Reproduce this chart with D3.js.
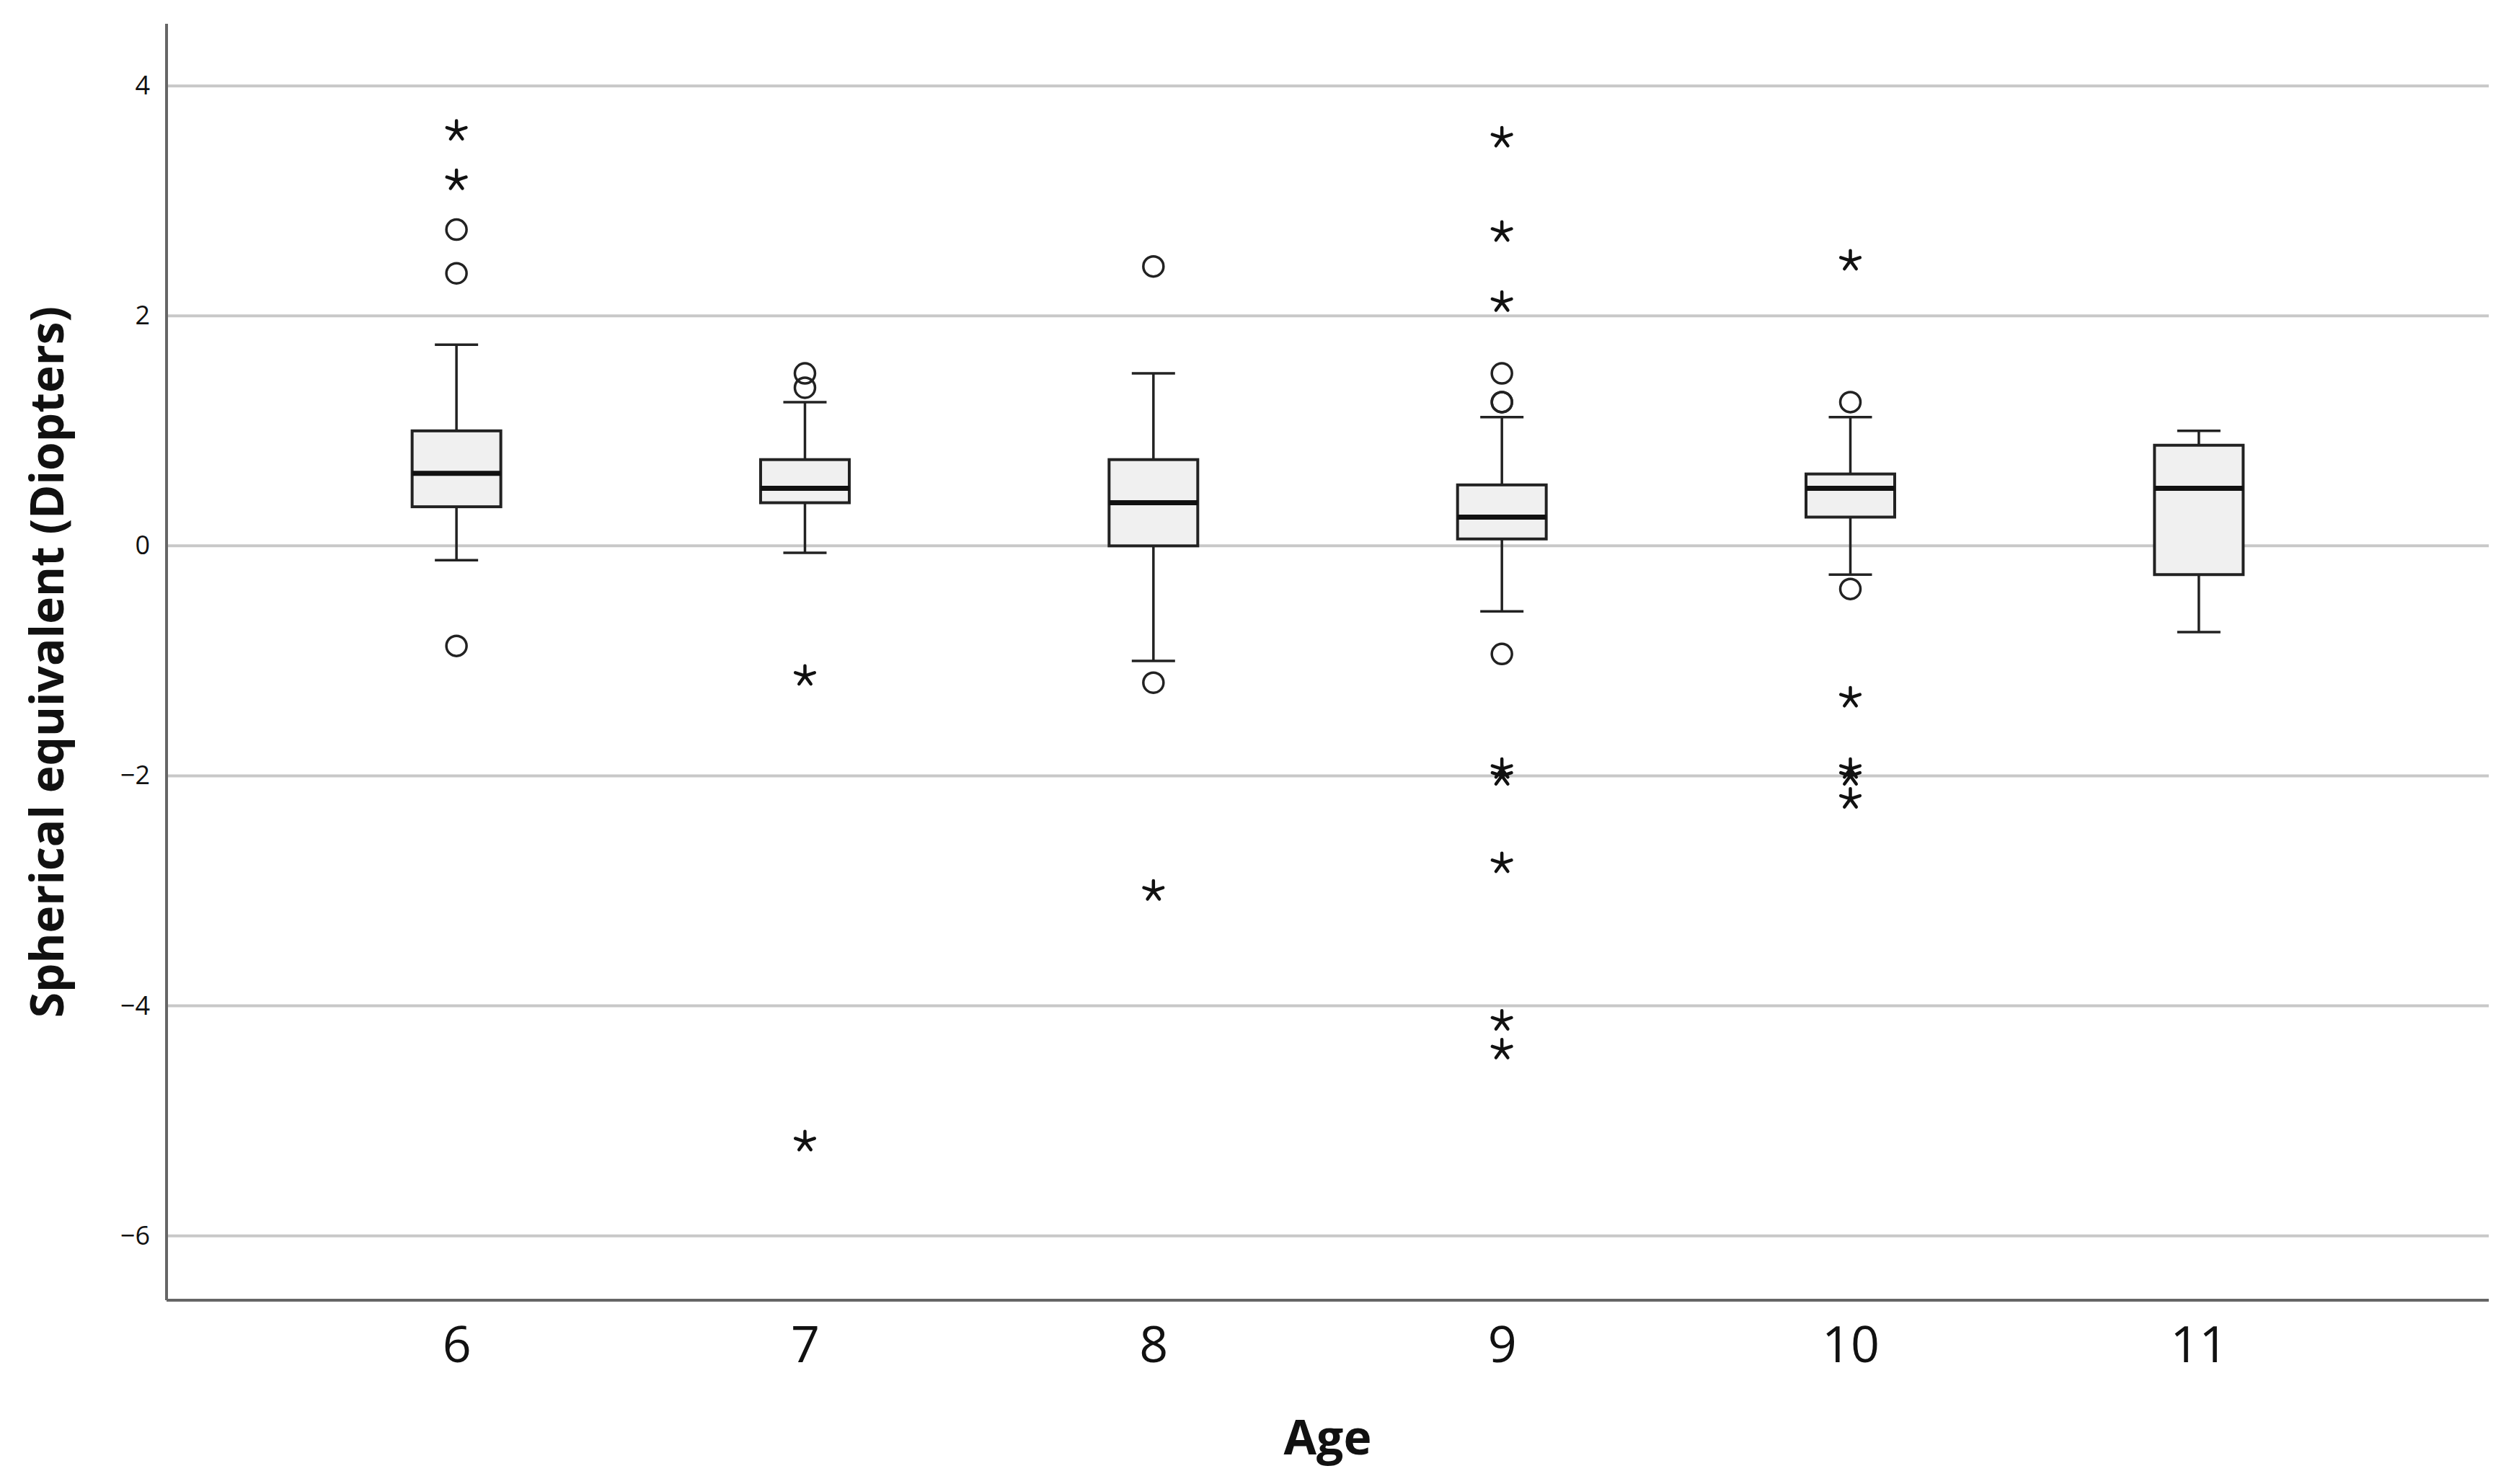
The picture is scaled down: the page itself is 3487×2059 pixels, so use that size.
<!DOCTYPE html>
<html>
<head>
<meta charset="utf-8">
<script src="https://cdn.jsdelivr.net/npm/d3@7"></script>
<style>
  body { margin: 0; background: #fff; }
  text { font-family: "Open Sans", "Noto Sans", sans-serif; }
</style>
</head>
<body>
<div id="chart"></div>
<script>
// box plot values
const ages = ["6", "7", "8", "9", "10", "11"];
const whiskerLow  = [-0.125, -0.06, -1.0, -0.57, -0.25, -0.75];
const q1          = [0.34, 0.375, 0.0, 0.06, 0.25, -0.25];
const median      = [0.63, 0.5, 0.375, 0.25, 0.5, 0.5];
const q3          = [1.0, 0.75, 0.75, 0.53, 0.625, 0.875];
const whiskerHigh = [1.75, 1.25, 1.5, 1.12, 1.12, 1.0];
// circles = outliers, stars = extreme values
const outliers = [
  [2.75, 2.37, -0.87],
  [1.5, 1.375],
  [2.43, -1.19],
  [1.5, 1.25, 1.25, -0.94],
  [1.25, -0.375],
  []
];
const extremes = [
  [3.61, 3.18],
  [-1.13, -5.18],
  [-3.0],
  [3.55, 2.73, 2.12, -1.94, -2.0, -2.76, -4.13, -4.38],
  [2.48, -1.32, -1.94, -2.0, -2.2],
  []
];
const yTicks = [-6, -4, -2, 0, 2, 4];

const W = 3487, H = 2059;
const margin = {top: 33, right: 35, bottom: 255, left: 231},
    width = W - margin.left - margin.right,
    height = H - margin.top - margin.bottom;

const svg = d3.select("#chart")
  .append("svg")
    .attr("width", W)
    .attr("height", H)
  .append("g")
    .attr("transform", `translate(${margin.left}, ${margin.top})`);

const x = d3.scalePoint()
  .domain(ages)
  .range([0, width])
  .padding(0.832);

const y = d3.scaleLinear()
  .domain([-6.56, 4.54])
  .range([height, 0]);

// gridlines
svg.append("g")
  .selectAll("line")
  .data(yTicks)
  .join("line")
    .attr("x1", 0)
    .attr("x2", width)
    .attr("y1", d => y(d))
    .attr("y2", d => y(d))
    .attr("stroke", "#c8c8c8")
    .attr("stroke-width", 4);

// y axis labels
const yAxis = svg.append("g")
  .call(d3.axisLeft(y).tickValues(yTicks).tickSize(0).tickPadding(23));
yAxis.select(".domain").remove();
yAxis.selectAll("text")
  .attr("font-size", 36)
  .attr("fill", "#111")
  .style("font-family", "'Open Sans', sans-serif");

// x axis labels
const xAxis = svg.append("g")
  .attr("transform", `translate(0, ${height})`)
  .call(d3.axisBottom(x).tickSize(0).tickPadding(36));
xAxis.select(".domain").remove();
xAxis.selectAll("text")
  .attr("font-size", 70)
  .attr("fill", "#111")
  .style("font-family", "'Open Sans', sans-serif");

// axis lines
svg.append("line")
  .attr("x1", 0).attr("x2", 0)
  .attr("y1", 0).attr("y2", height)
  .attr("stroke", "#666").attr("stroke-width", 4);
svg.append("line")
  .attr("x1", 0).attr("x2", width)
  .attr("y1", height).attr("y2", height)
  .attr("stroke", "#666").attr("stroke-width", 4);

const boxW = 123, capW = 60;
const boxes = ages.map((a, i) => ({
  age: a, lo: whiskerLow[i], q1: q1[i], med: median[i], q3: q3[i], hi: whiskerHigh[i]
}));

const g = svg.append("g").selectAll("g")
  .data(boxes)
  .join("g")
    .attr("transform", d => `translate(${x(d.age)}, 0)`);

// whiskers
g.append("line")
  .attr("y1", d => y(d.hi)).attr("y2", d => y(d.q3))
  .attr("stroke", "#222").attr("stroke-width", 3.5);
g.append("line")
  .attr("y1", d => y(d.q1)).attr("y2", d => y(d.lo))
  .attr("stroke", "#222").attr("stroke-width", 3.5);
g.append("line")
  .attr("x1", -capW / 2).attr("x2", capW / 2)
  .attr("y1", d => y(d.hi)).attr("y2", d => y(d.hi))
  .attr("stroke", "#222").attr("stroke-width", 3.5);
g.append("line")
  .attr("x1", -capW / 2).attr("x2", capW / 2)
  .attr("y1", d => y(d.lo)).attr("y2", d => y(d.lo))
  .attr("stroke", "#222").attr("stroke-width", 3.5);

// boxes
g.append("rect")
  .attr("x", -boxW / 2)
  .attr("width", boxW)
  .attr("y", d => y(d.q3))
  .attr("height", d => y(d.q1) - y(d.q3))
  .attr("fill", "#f0f0f0")
  .attr("stroke", "#222")
  .attr("stroke-width", 4);
g.append("line")
  .attr("x1", -boxW / 2).attr("x2", boxW / 2)
  .attr("y1", d => y(d.med)).attr("y2", d => y(d.med))
  .attr("stroke", "#111").attr("stroke-width", 7);

// outlier circles
const circ = [];
outliers.forEach((arr, i) => arr.forEach(v => circ.push({age: ages[i], v: v})));
svg.append("g").selectAll("circle")
  .data(circ)
  .join("circle")
    .attr("cx", d => x(d.age))
    .attr("cy", d => y(d.v))
    .attr("r", 14)
    .attr("fill", "none")
    .attr("stroke", "#222")
    .attr("stroke-width", 3.5);

// extreme stars (five spokes)
const spoke = 14;
const starPath = d3.range(5).map(k => {
  const a = -Math.PI / 2 + k * 2 * Math.PI / 5;
  return `M0,0L${(spoke * Math.cos(a)).toFixed(2)},${(spoke * Math.sin(a)).toFixed(2)}`;
}).join("");
const stars = [];
extremes.forEach((arr, i) => arr.forEach(v => stars.push({age: ages[i], v: v})));
svg.append("g").selectAll("path")
  .data(stars)
  .join("path")
    .attr("transform", d => `translate(${x(d.age)}, ${y(d.v)})`)
    .attr("d", starPath)
    .attr("fill", "none")
    .attr("stroke", "#111")
    .attr("stroke-width", 4.5)
    .attr("stroke-linecap", "round");

// axis titles
svg.append("text")
  .attr("x", width / 2)
  .attr("y", 2018 - margin.top)
  .attr("text-anchor", "middle")
  .attr("font-size", 66)
  .attr("font-weight", "bold")
  .attr("fill", "#111")
  .text("Age");

svg.append("text")
  .attr("transform", `translate(${88 - margin.left}, ${height / 2}) rotate(-90)`)
  .attr("text-anchor", "middle")
  .attr("font-size", 64)
  .attr("font-weight", "bold")
  .attr("fill", "#111")
  .text("Spherical equivalent (Diopters)");
</script>
</body>
</html>
